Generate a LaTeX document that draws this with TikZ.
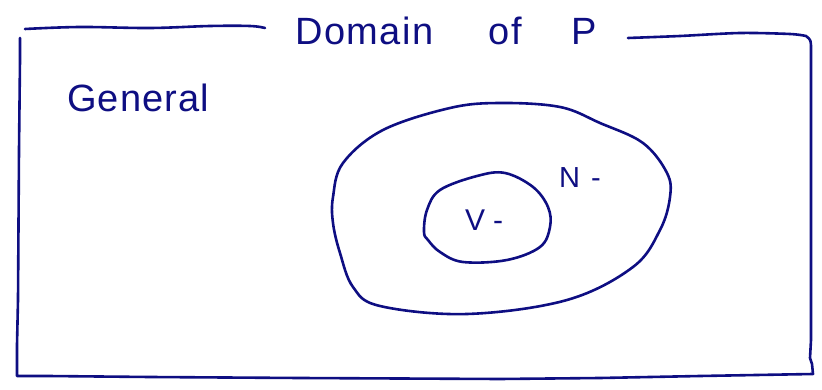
\documentclass[tikz,border=0pt]{standalone}
\usepackage{fontspec}
\setmainfont{Liberation Sans}
\definecolor{ink}{RGB}{14,14,130}
\begin{document}
\begin{tikzpicture}[x=1pt,y=-1pt,
  pen/.style={draw=ink,line width=2.6pt,line cap=round,line join=round},
  hand/.style={text=ink,inner sep=0pt,font=\fontsize{38}{40}\selectfont}]
\useasboundingbox (0,0) rectangle (822,390);
% frame
\draw[pen] plot[smooth,tension=0.6] coordinates {(25,29) (80,27) (150,28) (210,26) (250,26) (265,28)};
\draw[pen] plot[smooth,tension=0.5] coordinates {(628,38) (680,36) (740,33) (790,34) (806,36)}
  .. controls (811,40) .. (811,50) -- (811,340) -- (810,358) -- (812,364) -- (813,374)
  -- (700,376) -- (600,378) -- (500,379) -- (300,378) -- (150,377) -- (48,376) -- (30,376) -- (17,376)
  -- (17,345) -- (18,300) -- (19,150) -- (20,60) -- (20,38);
% outer region
\draw[pen] plot[smooth cycle,tension=0.6] coordinates {
  (333,197) (333,223) (340,253) (353,287) (380,306) (467,314) (567,300)
  (633,267) (660,230) (670,197) (667,173) (643,143) (600,123) (560,107) (500,103)
  (450,108) (383,130) (343,163)};
% inner region
\draw[pen] plot[smooth cycle,tension=0.6] coordinates {
  (424,232) (427,210) (440,190) (477,176) (505,173) (533,187) (548,207) (550,227)
  (540,247) (507,260) (463,262) (440,252) (428,240)};
% labels
\node[hand,anchor=base west] (title) at (295,45) {\addfontfeature{LetterSpace=4}Domain\hspace{55pt}of\hspace{50pt}P};
\node[hand,anchor=base west] (general) at (67,112) {\addfontfeature{LetterSpace=3}General};
\node[hand,anchor=base west,font=\fontsize{29}{31}\selectfont] (nlabel) at (559,188) {N\hspace{11pt}-};
\node[hand,anchor=base west,font=\fontsize{30}{32}\selectfont] (vlabel) at (465,230) {V\hspace{8pt}-};
\end{tikzpicture}
\end{document}
